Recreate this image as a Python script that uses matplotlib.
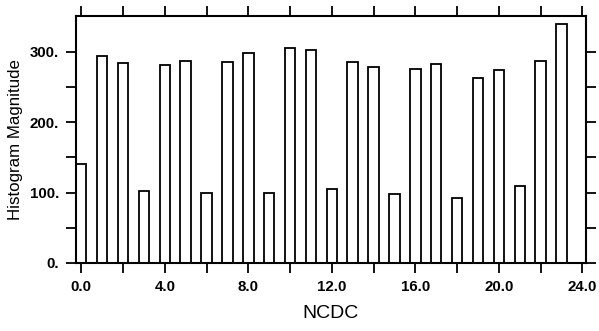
import matplotlib
matplotlib.use("Agg")
import matplotlib.pyplot as plt
import numpy as np

bins = list(range(24))
counts = [140, 294, 284, 102, 281, 287, 100, 286, 298, 100, 305, 303,
          105, 286, 279, 98, 275, 283, 92, 263, 274, 110, 287, 340]
x_ticks = list(range(0, 25, 2))
x_labels = ["%.1f" % t if t % 4 == 0 else "" for t in x_ticks]
y_ticks = [0, 50, 100, 150, 200, 250, 300]
y_labels = ["%d." % t if t % 100 == 0 else "" for t in y_ticks]

plt.rcParams["font.family"] = ["Liberation Sans", "DejaVu Sans"]

fig = plt.figure(figsize=(5.99, 3.31), dpi=100)
ax = fig.add_axes([76 / 599, 1 - 263 / 331, 510 / 599, 247 / 331])

ax.bar(bins, counts, width=0.5, color="white", edgecolor="black", linewidth=1.3)

ax.set_xlim(-0.25, 24.17)
ax.set_ylim(0, 351)
ax.set_xticks(x_ticks)
ax.set_xticklabels(x_labels, fontsize=10.8, fontweight="bold")
ax.set_yticks(y_ticks)
ax.set_yticklabels(y_labels, fontsize=10.8, fontweight="bold")
ax.tick_params(direction="out", length=7, width=1.3, pad=5,
               top=True, right=True, labeltop=False, labelright=False)
for s in ax.spines.values():
    s.set_linewidth(1.5)

ax.set_ylabel("Histogram Magnitude", fontsize=12.2, labelpad=5)
ax.set_xlabel("NCDC", fontsize=14, labelpad=8)

fig.savefig("out.png", dpi=100)
